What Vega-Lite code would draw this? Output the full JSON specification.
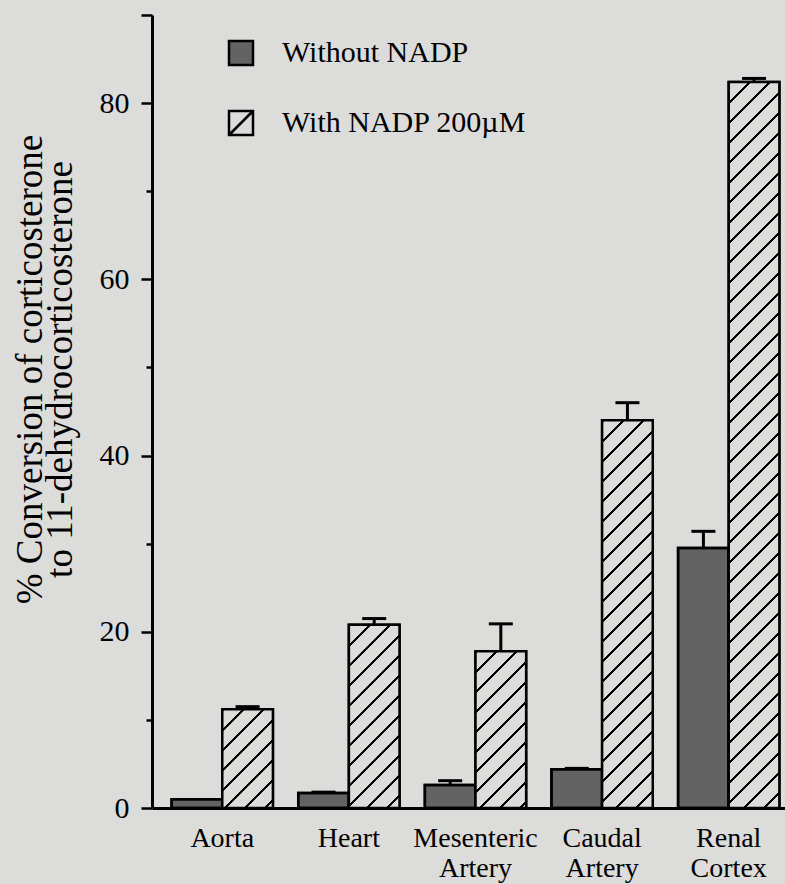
{
  "$schema": "https://vega.github.io/schema/vega-lite/v6.json",
  "width": 647,
  "height": 793,
  "autosize": {"type": "none"},
  "padding": {"left": 152, "top": 15, "right": 0, "bottom": 76},
  "background": "#dcdcda",
  "params": [
    {"name": "hatchStops", "value": [
      {"offset":0,"color":"#000"},{"offset":0.004,"color":"#000"},{"offset":0.004,"color":"#dcdcda"},{"offset":0.025,"color":"#dcdcda"},
      {"offset":0.025,"color":"#000"},{"offset":0.029,"color":"#000"},{"offset":0.029,"color":"#dcdcda"},{"offset":0.05,"color":"#dcdcda"},
      {"offset":0.05,"color":"#000"},{"offset":0.054,"color":"#000"},{"offset":0.054,"color":"#dcdcda"},{"offset":0.075,"color":"#dcdcda"},
      {"offset":0.075,"color":"#000"},{"offset":0.079,"color":"#000"},{"offset":0.079,"color":"#dcdcda"},{"offset":0.1,"color":"#dcdcda"},
      {"offset":0.1,"color":"#000"},{"offset":0.104,"color":"#000"},{"offset":0.104,"color":"#dcdcda"},{"offset":0.125,"color":"#dcdcda"},
      {"offset":0.125,"color":"#000"},{"offset":0.129,"color":"#000"},{"offset":0.129,"color":"#dcdcda"},{"offset":0.15,"color":"#dcdcda"},
      {"offset":0.15,"color":"#000"},{"offset":0.154,"color":"#000"},{"offset":0.154,"color":"#dcdcda"},{"offset":0.175,"color":"#dcdcda"},
      {"offset":0.175,"color":"#000"},{"offset":0.179,"color":"#000"},{"offset":0.179,"color":"#dcdcda"},{"offset":0.2,"color":"#dcdcda"},
      {"offset":0.2,"color":"#000"},{"offset":0.204,"color":"#000"},{"offset":0.204,"color":"#dcdcda"},{"offset":0.225,"color":"#dcdcda"},
      {"offset":0.225,"color":"#000"},{"offset":0.229,"color":"#000"},{"offset":0.229,"color":"#dcdcda"},{"offset":0.25,"color":"#dcdcda"},
      {"offset":0.25,"color":"#000"},{"offset":0.254,"color":"#000"},{"offset":0.254,"color":"#dcdcda"},{"offset":0.275,"color":"#dcdcda"},
      {"offset":0.275,"color":"#000"},{"offset":0.279,"color":"#000"},{"offset":0.279,"color":"#dcdcda"},{"offset":0.3,"color":"#dcdcda"},
      {"offset":0.3,"color":"#000"},{"offset":0.304,"color":"#000"},{"offset":0.304,"color":"#dcdcda"},{"offset":0.325,"color":"#dcdcda"},
      {"offset":0.325,"color":"#000"},{"offset":0.329,"color":"#000"},{"offset":0.329,"color":"#dcdcda"},{"offset":0.35,"color":"#dcdcda"},
      {"offset":0.35,"color":"#000"},{"offset":0.354,"color":"#000"},{"offset":0.354,"color":"#dcdcda"},{"offset":0.375,"color":"#dcdcda"},
      {"offset":0.375,"color":"#000"},{"offset":0.379,"color":"#000"},{"offset":0.379,"color":"#dcdcda"},{"offset":0.4,"color":"#dcdcda"},
      {"offset":0.4,"color":"#000"},{"offset":0.404,"color":"#000"},{"offset":0.404,"color":"#dcdcda"},{"offset":0.425,"color":"#dcdcda"},
      {"offset":0.425,"color":"#000"},{"offset":0.429,"color":"#000"},{"offset":0.429,"color":"#dcdcda"},{"offset":0.45,"color":"#dcdcda"},
      {"offset":0.45,"color":"#000"},{"offset":0.454,"color":"#000"},{"offset":0.454,"color":"#dcdcda"},{"offset":0.475,"color":"#dcdcda"},
      {"offset":0.475,"color":"#000"},{"offset":0.479,"color":"#000"},{"offset":0.479,"color":"#dcdcda"},{"offset":0.5,"color":"#dcdcda"},
      {"offset":0.5,"color":"#000"},{"offset":0.504,"color":"#000"},{"offset":0.504,"color":"#dcdcda"},{"offset":0.525,"color":"#dcdcda"},
      {"offset":0.525,"color":"#000"},{"offset":0.529,"color":"#000"},{"offset":0.529,"color":"#dcdcda"},{"offset":0.55,"color":"#dcdcda"},
      {"offset":0.55,"color":"#000"},{"offset":0.554,"color":"#000"},{"offset":0.554,"color":"#dcdcda"},{"offset":0.575,"color":"#dcdcda"},
      {"offset":0.575,"color":"#000"},{"offset":0.579,"color":"#000"},{"offset":0.579,"color":"#dcdcda"},{"offset":0.6,"color":"#dcdcda"},
      {"offset":0.6,"color":"#000"},{"offset":0.604,"color":"#000"},{"offset":0.604,"color":"#dcdcda"},{"offset":0.625,"color":"#dcdcda"},
      {"offset":0.625,"color":"#000"},{"offset":0.629,"color":"#000"},{"offset":0.629,"color":"#dcdcda"},{"offset":0.65,"color":"#dcdcda"},
      {"offset":0.65,"color":"#000"},{"offset":0.654,"color":"#000"},{"offset":0.654,"color":"#dcdcda"},{"offset":0.675,"color":"#dcdcda"},
      {"offset":0.675,"color":"#000"},{"offset":0.679,"color":"#000"},{"offset":0.679,"color":"#dcdcda"},{"offset":0.7,"color":"#dcdcda"},
      {"offset":0.7,"color":"#000"},{"offset":0.704,"color":"#000"},{"offset":0.704,"color":"#dcdcda"},{"offset":0.725,"color":"#dcdcda"},
      {"offset":0.725,"color":"#000"},{"offset":0.729,"color":"#000"},{"offset":0.729,"color":"#dcdcda"},{"offset":0.75,"color":"#dcdcda"},
      {"offset":0.75,"color":"#000"},{"offset":0.754,"color":"#000"},{"offset":0.754,"color":"#dcdcda"},{"offset":0.775,"color":"#dcdcda"},
      {"offset":0.775,"color":"#000"},{"offset":0.779,"color":"#000"},{"offset":0.779,"color":"#dcdcda"},{"offset":0.8,"color":"#dcdcda"},
      {"offset":0.8,"color":"#000"},{"offset":0.804,"color":"#000"},{"offset":0.804,"color":"#dcdcda"},{"offset":0.825,"color":"#dcdcda"},
      {"offset":0.825,"color":"#000"},{"offset":0.829,"color":"#000"},{"offset":0.829,"color":"#dcdcda"},{"offset":0.85,"color":"#dcdcda"},
      {"offset":0.85,"color":"#000"},{"offset":0.854,"color":"#000"},{"offset":0.854,"color":"#dcdcda"},{"offset":0.875,"color":"#dcdcda"},
      {"offset":0.875,"color":"#000"},{"offset":0.879,"color":"#000"},{"offset":0.879,"color":"#dcdcda"},{"offset":0.9,"color":"#dcdcda"},
      {"offset":0.9,"color":"#000"},{"offset":0.904,"color":"#000"},{"offset":0.904,"color":"#dcdcda"},{"offset":0.925,"color":"#dcdcda"},
      {"offset":0.925,"color":"#000"},{"offset":0.929,"color":"#000"},{"offset":0.929,"color":"#dcdcda"},{"offset":0.95,"color":"#dcdcda"},
      {"offset":0.95,"color":"#000"},{"offset":0.954,"color":"#000"},{"offset":0.954,"color":"#dcdcda"},{"offset":0.975,"color":"#dcdcda"},
      {"offset":0.975,"color":"#000"},{"offset":0.979,"color":"#000"},{"offset":0.979,"color":"#dcdcda"},{"offset":1,"color":"#dcdcda"}
    ]}
  ],
  "data": {"values": [
    {"organ": "Aorta", "series": "Without NADP", "value": 1.0, "upper": 1.0},
    {"organ": "Aorta", "series": "With NADP 200µM", "value": 11.2, "upper": 11.5},
    {"organ": "Heart", "series": "Without NADP", "value": 1.7, "upper": 1.8},
    {"organ": "Heart", "series": "With NADP 200µM", "value": 20.8, "upper": 21.5},
    {"organ": "Mesenteric Artery", "series": "Without NADP", "value": 2.6, "upper": 3.1},
    {"organ": "Mesenteric Artery", "series": "With NADP 200µM", "value": 17.8, "upper": 20.9},
    {"organ": "Caudal Artery", "series": "Without NADP", "value": 4.4, "upper": 4.5},
    {"organ": "Caudal Artery", "series": "With NADP 200µM", "value": 44.0, "upper": 46.0},
    {"organ": "Renal Cortex", "series": "Without NADP", "value": 29.5, "upper": 31.4},
    {"organ": "Renal Cortex", "series": "With NADP 200µM", "value": 82.4, "upper": 82.8}
  ]},
  "encoding": {
    "x": {
      "field": "organ", "type": "nominal",
      "sort": ["Aorta", "Heart", "Mesenteric Artery", "Caudal Artery", "Renal Cortex"],
      "scale": {"paddingInner": 0.2, "paddingOuter": 0.155},
      "axis": {
        "title": null, "ticks": false, "labelAngle": 0,
        "domainColor": "black", "domainWidth": 3,
        "labelFont": "Liberation Serif", "labelFontSize": 28, "labelColor": "black",
        "labelPadding": 16, "labelExpr": "split(datum.label, ' ')", "labelLineHeight": 30,
        "labelBaseline": "top", "labelLimit": 300
      }
    },
    "xOffset": {
      "field": "series", "type": "nominal",
      "sort": ["Without NADP", "With NADP 200µM"],
      "scale": {"domain": ["Without NADP", "With NADP 200µM"], "paddingInner": 0, "paddingOuter": 0}
    }
  },
  "layer": [
    {
      "mark": {"type": "bar", "stroke": "black", "strokeWidth": 2.5},
      "encoding": {
        "y": {
          "field": "value", "type": "quantitative",
          "scale": {"domain": [0, 90], "nice": false},
          "axis": {
            "values": [0, 10, 20, 30, 40, 50, 60, 70, 80, 90],
            "labelExpr": "datum.value % 20 === 0 && datum.value < 90 ? datum.label : ''",
            "tickSize": {"condition": {"test": "datum.value % 20 === 0 || datum.value === 90", "value": 11}, "value": 6},
            "grid": false,
            "domainColor": "black", "domainWidth": 3,
            "tickColor": "black", "tickWidth": 2.5,
            "labelFont": "Liberation Serif", "labelFontSize": 30, "labelColor": "black", "labelPadding": 12,
            "title": ["% Conversion of corticosterone", "to 11-dehydrocorticosterone"],
            "titleFont": "Liberation Serif", "titleFontSize": 37, "titleFontWeight": "normal",
            "titleColor": "black", "titleLineHeight": 30,
            "titleAngle": -90, "titleAlign": "center", "titleBaseline": "middle",
            "titleX": -122, "titleY": 354
          }
        },
        "fill": {
          "field": "series", "type": "nominal",
          "scale": {"domain": ["Without NADP", "With NADP 200µM"], "range": ["#636363", "#dcdcda"]},
          "legend": {
            "title": null, "orient": "none", "legendX": 74, "legendY": 23, "padding": 0,
            "symbolType": "square", "symbolSize": 576, "symbolStrokeColor": "black", "symbolStrokeWidth": 2.5,
            "symbolOpacity": 1,
            "labelFont": "Liberation Serif", "labelFontSize": 30, "labelColor": "black",
            "labelOffset": 26, "labelLimit": 400, "rowPadding": 36,
            "encode": {
              "symbols": {"update": {
                "shape": {"signal": "datum.value === 'With NADP 200µM' ? 'M-1,-1H1V1H-1ZM-1,1L1,-1' : 'square'"},
                "fill": {"signal": "datum.value === 'With NADP 200µM' ? '#dcdcda' : '#505050'"},
                "stroke": {"value": "black"},
                "strokeWidth": {"value": 2.5},
                "opacity": {"value": 1},
                "fillOpacity": {"value": 1}
              }}
            }
          }
        }
      }
    },
    {
      "mark": {
        "type": "bar", "stroke": "black", "strokeWidth": 2.5,
        "fill": {"expr": "datum.series === 'With NADP 200µM' ? {gradient: 'linear', x1: 0, y1: 0, x2: 800 * bandwidth('xOffset') / (pow(bandwidth('xOffset'), 2) + pow(scale('y', 0) - scale('y', datum.value), 2)), y2: 800 * (scale('y', 0) - scale('y', datum.value)) / (pow(bandwidth('xOffset'), 2) + pow(scale('y', 0) - scale('y', datum.value), 2)), stops: hatchStops} : 'transparent'"}
      },
      "encoding": {
        "y": {"field": "value", "type": "quantitative"}
      }
    },
    {
      "transform": [{"filter": "datum.upper > datum.value + 0.05"}],
      "mark": {"type": "rule", "strokeWidth": 3, "color": "black"},
      "encoding": {
        "y": {"field": "value", "type": "quantitative"},
        "y2": {"field": "upper"}
      }
    },
    {
      "transform": [{"filter": "datum.upper > datum.value + 0.05"}],
      "mark": {"type": "tick", "orient": "horizontal", "thickness": 3, "size": 24, "color": "black", "opacity": 1},
      "encoding": {
        "y": {"field": "upper", "type": "quantitative"}
      }
    }
  ],
  "config": {
    "view": {"stroke": null},
    "font": "Liberation Serif"
  }
}
